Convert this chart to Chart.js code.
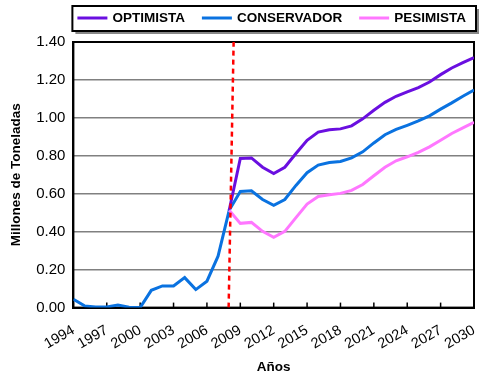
<!DOCTYPE html>
<html>
<head>
<meta charset="utf-8">
<script src="https://cdn.jsdelivr.net/npm/chart.js@4/dist/chart.umd.min.js"></script>
<style>
  body { margin: 0; background: #fff; }
</style>
</head>
<body>
<canvas id="toneladasChart" width="483" height="377"></canvas>
<script>
var years = [];
for (var yr = 1994; yr <= 2030; yr++) years.push(yr);

// 1994 - 2030, historico + conservador
var conservador = [0.044, 0.009, 0.003, 0.003, 0.014, 0.002, 0.0, 0.091, 0.114, 0.114, 0.158, 0.095, 0.139, 0.271, 0.513,
  0.612, 0.616, 0.570, 0.539, 0.570, 0.644, 0.711, 0.751, 0.765, 0.770, 0.789, 0.821, 0.868, 0.911, 0.939, 0.961, 0.984,
  1.011, 1.046, 1.079, 1.114, 1.147];
// desde 2008
var optimista = [0.513, 0.786, 0.789, 0.740, 0.707, 0.740, 0.812, 0.882, 0.925, 0.937, 0.942, 0.958, 0.995, 1.040, 1.082,
  1.114, 1.137, 1.160, 1.189, 1.228, 1.263, 1.291, 1.318];
var pesimista = [0.513, 0.444, 0.449, 0.402, 0.370, 0.402, 0.474, 0.546, 0.586, 0.595, 0.602, 0.618, 0.649, 0.695, 0.740,
  0.774, 0.795, 0.818, 0.847, 0.882, 0.918, 0.947, 0.977];
var corteX = [2007.95, 2008.4];
var corteY = [0, 1.4];

function pts(xs, ys) {
  return ys.map(function (v, i) { return { x: xs[i], y: v }; });
}

// legend box drawn by hand so it sits over the plot like the original
var framePlugin = {
  id: 'frame',
  beforeDraw: function (chart) {
    var c = chart.ctx;
    c.save();
    c.fillStyle = '#fff';
    c.fillRect(0, 0, chart.width, chart.height);
    c.restore();
  },
  beforeDatasetsDraw: function (chart) {
    var c = chart.ctx, a = chart.chartArea;
    var xs = chart.scales.x;
    c.save();
    c.strokeStyle = '#000';
    c.lineWidth = 1.5;
    for (var t = 1994; t <= 2030; t += 3) {
      var px = xs.getPixelForValue(t);
      c.beginPath(); c.moveTo(px, a.bottom); c.lineTo(px, a.bottom - 5); c.stroke();
    }
    c.lineWidth = 2;
    c.strokeRect(a.left, a.top, a.right - a.left, a.bottom - a.top);
    c.restore();
  },
  afterDraw: function (chart) {
    var c = chart.ctx, a = chart.chartArea;
    var bx = a.left - 1, bw = a.right - a.left + 3;
    c.save();
    c.fillStyle = '#888';
    c.fillRect(bx + 3, 9, bw, 25);
    c.fillStyle = '#fff';
    c.fillRect(bx, 6, bw, 25);
    c.strokeStyle = '#000';
    c.lineWidth = 2;
    c.strokeRect(bx, 6, bw, 25);
    c.font = 'bold 13.5px "Liberation Sans"';
    c.textBaseline = 'middle';
    var x = bx + 5, y = 18;
    chart.data.datasets.forEach(function (ds) {
      if (ds.label === 'corte') return;
      c.strokeStyle = ds.borderColor;
      c.lineWidth = 3;
      c.beginPath(); c.moveTo(x, y); c.lineTo(x + 30, y); c.stroke();
      x += 35;
      c.fillStyle = '#000';
      c.fillText(ds.label, x, y);
      x += c.measureText(ds.label).width + 17;
    });
    c.restore();
  }
};

var ctx = document.getElementById('toneladasChart').getContext('2d');
var toneladasChart = new Chart(ctx, {
  type: 'line',
  data: {
    datasets: [{
      label: 'OPTIMISTA',
      data: pts(years.slice(14), optimista),
      borderColor: '#6a0fe0',
      borderWidth: 3,
      pointRadius: 0,
      order: 2
    }, {
      label: 'CONSERVADOR',
      data: pts(years, conservador),
      borderColor: '#0a72e0',
      borderWidth: 3,
      pointRadius: 0,
      order: 3
    }, {
      label: 'PESIMISTA',
      data: pts(years.slice(14), pesimista),
      borderColor: '#ff77ff',
      borderWidth: 3,
      pointRadius: 0,
      order: 1
    }, {
      label: 'corte',
      data: pts(corteX, corteY),
      borderColor: '#ff0000',
      borderWidth: 2.5,
      borderDash: [5, 4],
      pointRadius: 0,
      order: 0
    }]
  },
  options: {
    responsive: false,
    animation: false,
    layout: { padding: { left: 4, right: 9, top: 42, bottom: 0 } },
    plugins: {
      tooltip: { enabled: false },
      legend: { display: false }
    },
    scales: {
      x: {
        type: 'linear',
        min: 1994,
        max: 2030,
        grid: { display: false, drawTicks: false },
        border: { color: '#000', width: 2 },
        afterFit: function (s) { s.paddingRight = 0; },
        ticks: {
          stepSize: 3,
          autoSkip: false,
          minRotation: 30,
          maxRotation: 30,
          padding: 14,
          color: '#000',
          font: { family: 'Liberation Sans', size: 14.5 },
          callback: function (v) { return String(v); }
        },
        title: {
          display: true,
          text: 'Años',
          color: '#000',
          padding: { top: -8, bottom: 2 },
          font: { family: 'Liberation Sans', size: 13.5, weight: 'bold' }
        }
      },
      y: {
        min: 0,
        max: 1.4,
        grid: { color: '#808080', lineWidth: 1.5, drawTicks: false },
        border: { color: '#000', width: 2 },
        ticks: {
          stepSize: 0.2,
          padding: 8,
          color: '#000',
          font: { family: 'Liberation Sans', size: 15 },
          callback: function (v) { return v.toFixed(2); }
        },
        title: {
          display: true,
          text: 'Millones de Toneladas',
          color: '#000',
          padding: 4,
          font: { family: 'Liberation Sans', size: 13.5, weight: 'bold' }
        }
      }
    }
  },
  plugins: [framePlugin]
});
</script>
</body>
</html>
